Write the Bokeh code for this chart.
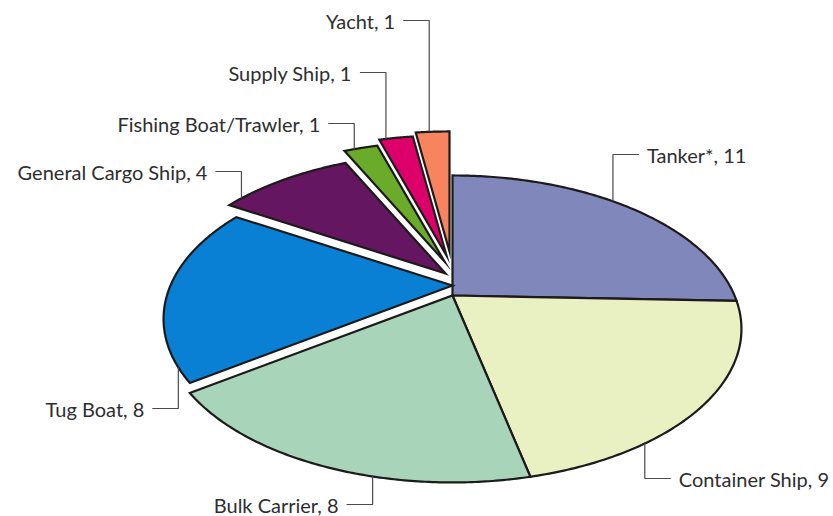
import numpy as np
from bokeh.plotting import figure
from bokeh.models import Range1d
from bokeh.embed import file_html
from bokeh.resources import INLINE
from bokeh.core.properties import value

# ---- data ----
categories = ["Tanker*", "Container Ship", "Bulk Carrier", "Tug Boat",
              "General Cargo Ship", "Fishing Boat/Trawler", "Supply Ship", "Yacht"]
counts = [11, 9, 8, 8, 4, 1, 1, 1]
colors = ["#8087bb", "#e9f0c1", "#a8d5b9", "#0a80d4",
          "#651660", "#6bab2a", "#dd006b", "#f8845f"]

# ---- layout / style ----
explode_dx = [0, 0, 0, 0, -7, -8, -6, -3]
explode_dy = [0, 0, 0, -10, -22, -34, -40, -44]
anchor_frac = [0.45, 0.716, 0.38, 0.084, 0.12, 0.3, 0.2, 0.4]
label_y = [154, 478, 504, 408, 171, 123, 72, 20]
label_side = [1, 1, -1, -1, -1, -1, -1, -1]

CX, CY, A, B, K = 452.0, 295.0, 282.0, 146.2, 0.218


def project(theta_deg, r=1.0):
    t = np.radians(theta_deg)
    u = r * np.sin(t)
    v = -r * np.cos(t)
    d = 1 - K * v
    return CX + A * u / d, CY + B * v / d


total = float(sum(counts))
bounds = np.concatenate([[0.0], np.cumsum(counts) / total * 360.0])

xs, ys = [], []
lx, ly = [], []
tx, ty, tlabels, talign = [], [], [], []
for i, cat in enumerate(categories):
    a0, a1 = bounds[i], bounds[i + 1]
    th = np.linspace(a0, a1, 120)
    px, py = project(th)
    xs.append(list(np.concatenate([[CX], px]) + explode_dx[i]))
    ys.append(list(np.concatenate([[CY], py]) + explode_dy[i]))

    ax, ay = project(a0 + anchor_frac[i] * (a1 - a0))
    ax += explode_dx[i]
    ay += explode_dy[i]
    s = label_side[i]
    lx.append([ax, ax, ax + s * 26])
    ly.append([ay, label_y[i], label_y[i]])
    tx.append(ax + s * 34)
    ty.append(label_y[i])
    tlabels.append(f"{cat}, {counts[i]}")
    talign.append("left" if s > 0 else "right")

p = figure(width=833, height=516, x_range=Range1d(0, 833), y_range=Range1d(516, 0),
           output_backend="svg", toolbar_location=None, min_border=0,
           outline_line_color=None, background_fill_color="white")
p.axis.visible = False
p.grid.visible = False

p.patches(xs, ys, fill_color=colors, line_color="#1c1a1a", line_width=2.2,
          line_join="miter")
p.multi_line(lx, ly, line_color="#4a4a4a", line_width=1.2)
p.text(x=tx, y=ty, text=tlabels, text_align=talign, text_baseline="middle",
       text_font=value("Lato"), text_font_size=value("20px"), text_color="#2e2e2e")

open("out.html", "w").write(file_html(p, INLINE))
